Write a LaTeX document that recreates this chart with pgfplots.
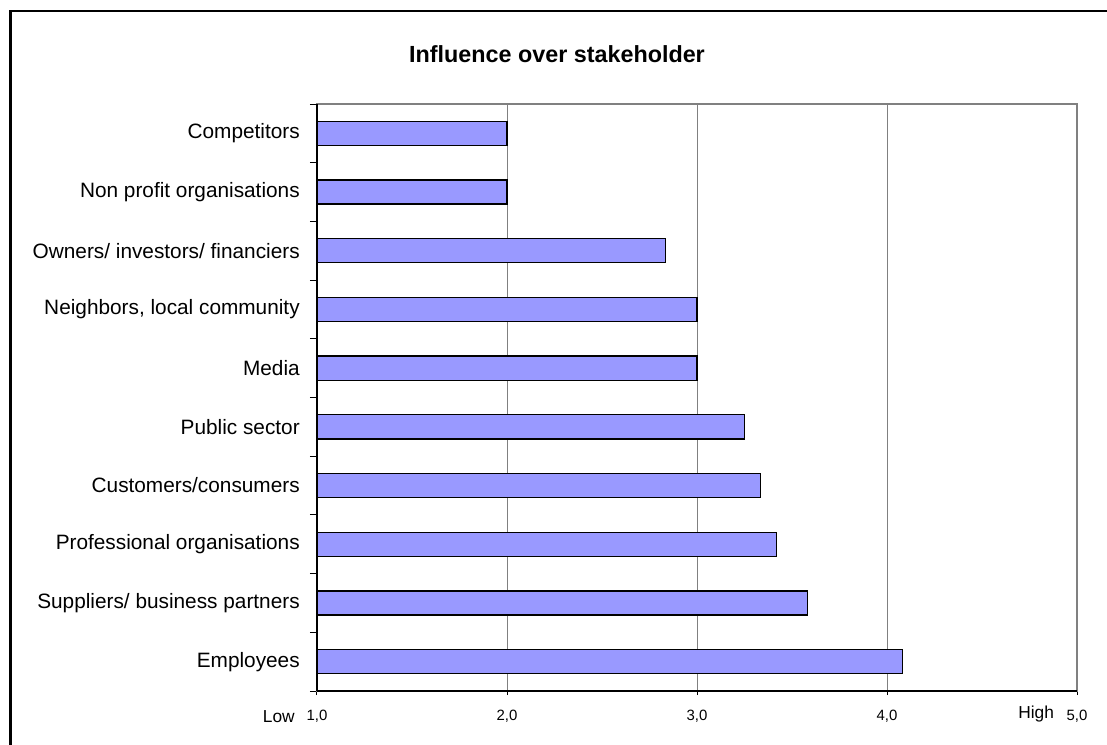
\documentclass[border=0pt]{standalone}
\usepackage{fontspec}
\setmainfont{Liberation Sans}
\usepackage{pgfplots}
\pgfplotsset{compat=1.18}
\definecolor{barblue}{HTML}{9999FF}
\definecolor{gridgray}{HTML}{808080}
\begin{document}
\begin{tikzpicture}
\begin{scope}[x=0.75pt,y=-0.75pt]
\path[use as bounding box] (0,0) rectangle (1107,745);
\draw[line width=1.75pt,black] (10.5,745) -- (10.5,11) -- (1107,11);
\node[anchor=base,font=\fontsize{17.5}{20}\selectfont\bfseries] at (557,63) {Influence over stakeholder};
\node[anchor=base east,inner sep=0pt,font=\fontsize{13}{15}\selectfont] at (295,722) {Low};
\node[anchor=base west,inner sep=0pt,font=\fontsize{13}{15}\selectfont] at (1018,718) {High};
\end{scope}
\begin{axis}[
  name=ax,
  at={(317*0.75pt,-691*0.75pt)}, anchor=south west,
  scale only axis, width=570pt, height=440.25pt,
  xmin=1, xmax=5, ymin=-0.5, ymax=9.5,
  xbar, bar width=0.41,
  xtick={1,2,3,4,5},
  xticklabels={{1,0},{2,0},{3,0},{4,0},{5,0}},
  xtick pos=bottom, ytick pos=left,
  tick align=outside,
  ytick={0,1,2,3,4,5,6,7,8,9},
  yticklabels={Employees,Suppliers/ business partners,Professional organisations,Customers/consumers,Public sector,Media,{Neighbors, local community},Owners/ investors/ financiers,Non profit organisations,Competitors},
  minor ytick={-0.5,0.5,1.5,2.5,3.5,4.5,5.5,6.5,7.5,8.5,9.5},
  major tick length=3pt, minor tick length=5.25pt,
  major y tick style={draw=none},
  minor y tick style={black,line width=0.75pt},
  major x tick style={black,line width=0.75pt},
  xmajorgrids, grid style={gridgray,line width=0.75pt},
  axis line style={gridgray,line width=0.9pt},
  yticklabel style={inner sep=0pt,xshift=-9.75pt,font=\fontsize{15.6}{18}\selectfont},
  xticklabel style={inner sep=0pt,yshift=-11.25pt,font=\fontsize{11.2}{13}\selectfont},
]
\addplot[fill=barblue,draw=black,line width=1pt] coordinates {
(4.083,0) (3.583,1) (3.417,2) (3.333,3) (3.25,4) (3.0,5) (3.0,6) (2.833,7) (2.0,8) (2.0,9)};
\end{axis}
\draw[black,line width=0.9pt] (ax.south west) -- (ax.north west);
\draw[black,line width=0.9pt] (ax.south west) -- (ax.south east);
\end{tikzpicture}
\end{document}
